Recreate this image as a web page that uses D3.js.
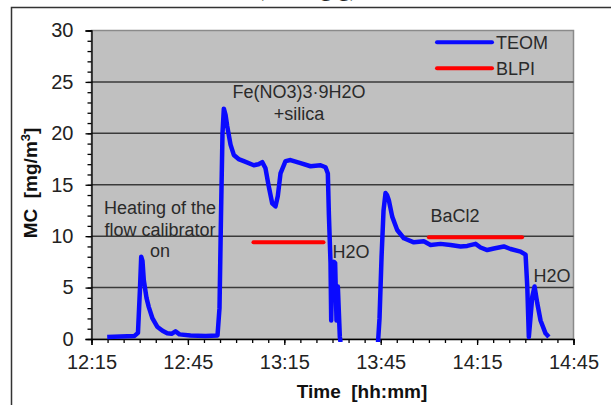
<!DOCTYPE html>
<html>
<head>
<meta charset="utf-8">
<script src="https://cdn.jsdelivr.net/npm/d3@7"></script>
<style>
	body { margin: 0; background: #fff; }
	text { font-family: "Liberation Sans", Arial, sans-serif; }
</style>
</head>
<body>
<script>
// TEOM trace (time of day, MC in mg/m3); null marks the gap where the trace is off scale
const teomTime = [
	"12:19:53", "12:24:02", "12:28:23", "12:29:28", "12:30:06", "12:30:28", "12:30:52", "12:31:17",
	"12:32:07", "12:32:50", "12:33:59", "12:35:27", "12:37:06", "12:38:34", "12:39:54", "12:41:08",
	"12:42:23", "12:45:49", "12:50:29", "12:54:13", "12:54:50", "12:55:18", "12:55:46", "12:56:11",
	"12:56:43", "12:57:14", "12:58:16", "12:59:17", "13:00:46", "13:02:24", "13:05:31", "13:06:58",
	"13:08:08", "13:09:09", "13:10:11", "13:11:14", "13:12:16", "13:12:59", "13:13:49", "13:15:23",
	"13:16:56", "13:20:03", "13:23:10", "13:26:16", "13:27:50", "13:28:33", "13:28:52", "13:29:23",
	"13:29:36", "13:29:55", "13:30:25", "13:30:49", "13:31:15", "13:31:40", "13:32:17", "13:32:30",
	"13:38:00",
	"13:44:10", "13:44:38", "13:45:16", "13:45:53", "13:46:30", "13:46:58", "13:47:32", "13:48:35",
	"13:50:08", "13:52:12", "13:55:19", "13:58:25", "14:00:31", "14:03:37", "14:06:44", "14:09:51",
	"14:11:56", "14:14:31", "14:16:04", "14:18:10", "14:20:13", "14:23:19", "14:25:25", "14:28:31",
	"14:30:05", "14:30:37", "14:31:06", "14:32:10", "14:32:53", "14:33:43", "14:34:45", "14:36:18",
	"14:37:20"
];
const teomValue = [
	0.2, 0.25, 0.3, 0.6, 5.0, 8.0, 7.6, 5.7,
	4.0, 3.1, 2.0, 1.2, 0.8, 0.55, 0.5, 0.75,
	0.45, 0.35, 0.3, 0.35, 3.0, 12.0, 20.0, 22.4,
	21.8, 20.7, 18.9, 17.9, 17.5, 17.3, 16.9, 17.0,
	17.2, 16.6, 14.8, 13.2, 12.9, 13.9, 16.1, 17.3,
	17.4, 17.1, 16.8, 16.9, 16.7, 16.1, 12.2, 7.4,
	1.8, 7.0, 7.5, 7.4, 1.8, 5.1, 0.2, -0.3,
	null,
	-0.3, 2.0, 8.0, 12.5, 14.2, 14.0, 13.5, 11.9,
	10.6, 9.8, 9.4, 9.5, 9.15, 9.25, 9.15, 9.0,
	9.05, 9.25, 8.9, 8.65, 8.8, 9.0, 8.75, 8.5,
	8.2, 5.1, 0.2, 4.1, 5.1, 3.5, 1.8, 0.55,
	0.2
];

// BLPI averages: start, end, value
const blpiStart = ["13:05:24", "14:00:00"];
const blpiEnd = ["13:27:12", "14:29:00"];
const blpiValue = [9.4, 9.9];

const xTickLabels = ["12:15", "12:45", "13:15", "13:45", "14:15", "14:45"];
const yTicks = [0, 5, 10, 15, 20, 25, 30];

const annotations = [
	{ lines: ["Heating of the", "flow calibrator", "on"], x: 160, y: 214 },
	{ lines: ["Fe(NO3)3·9H2O", "+silica"], x: 299, y: 98 },
	{ lines: ["H2O"], x: 351, y: 258 },
	{ lines: ["BaCl2"], x: 455, y: 222 },
	{ lines: ["H2O"], x: 552, y: 282 }
];

document.addEventListener('DOMContentLoaded', () => {
	const width = 611;
	const height = 405;
	const margin = { left: 91.5, right: 37.5, top: 30.5, bottom: 66 };

	const svg = d3.select("body").append("svg")
		.attr("width", width)
		.attr("height", height);

	const parseT = d3.timeParse("%H:%M:%S");
	const parseHM = d3.timeParse("%H:%M");

	const x = d3.scaleTime()
		.domain([parseHM(xTickLabels[0]), parseHM(xTickLabels[xTickLabels.length - 1])])
		.range([margin.left, width - margin.right]);

	const y = d3.scaleLinear()
		.domain([0, 30])
		.range([height - margin.bottom, margin.top]);

	// caption of the figure above, mostly cut off by the crop
	svg.append("text")
		.attr("x", 307)
		.attr("y", -4)
		.attr("text-anchor", "middle")
		.style("font-family", "'Liberation Serif', serif")
		.attr("font-size", "24px")
		.attr("fill", "#222")
		.text("(Setting g)");

	// outer frame
	svg.append("path")
		.attr("d", `M11.5,${height + 2}V7.5H${width + 2}`)
		.attr("fill", "none")
		.attr("stroke", "#333")
		.attr("stroke-width", 1.5);

	// plot area
	svg.append("rect")
		.attr("x", margin.left)
		.attr("y", margin.top)
		.attr("width", width - margin.left - margin.right)
		.attr("height", height - margin.top - margin.bottom)
		.attr("fill", "#c0c0c0")
		.attr("stroke", "#8a8a8a")
		.attr("stroke-width", 1.5);

	svg.append("clipPath")
		.attr("id", "plot-clip")
		.append("rect")
		.attr("x", margin.left)
		.attr("y", margin.top)
		.attr("width", width - margin.left - margin.right)
		.attr("height", height - margin.top - margin.bottom + 3);

	// gridlines
	svg.append("g")
		.selectAll("line")
		.data(yTicks.slice(1, -1))
		.enter().append("line")
		.attr("x1", margin.left)
		.attr("x2", width - margin.right)
		.attr("y1", d => y(d))
		.attr("y2", d => y(d))
		.attr("stroke", "#3a3a3a")
		.attr("stroke-width", 1.5);

	// axes: minor ticks first, then the labelled majors
	const xMinor = d3.timeMinute.every(5).range(x.domain()[0], new Date(+x.domain()[1] + 1));
	svg.append("g")
		.attr("transform", `translate(0,${y(0)})`)
		.call(d3.axisBottom(x).tickValues(xMinor).tickSize(4).tickFormat(""))
		.call(g => g.select(".domain").remove());

	const xAxis = svg.append("g")
		.attr("transform", `translate(0,${y(0)})`)
		.call(d3.axisBottom(x)
			.tickValues(xTickLabels.map(parseHM))
			.tickSize(6)
			.tickPadding(10)
			.tickFormat(d3.timeFormat("%H:%M")));

	svg.append("g")
		.attr("transform", `translate(${margin.left},0)`)
		.call(d3.axisLeft(y).tickValues(d3.range(0, 31, 1)).tickSize(4).tickFormat(""))
		.call(g => g.select(".domain").remove());

	const yAxis = svg.append("g")
		.attr("transform", `translate(${margin.left},0)`)
		.call(d3.axisLeft(y)
			.tickValues(yTicks)
			.tickSize(6)
			.tickPadding(12));

	svg.selectAll(".tick line").attr("stroke", "#000").attr("stroke-width", 1.3);
	svg.selectAll(".domain").attr("stroke", "#000").attr("stroke-width", 1.3);
	[xAxis, yAxis].forEach(a => a.selectAll("text")
		.attr("font-size", "20px")
		.attr("fill", "#222")
		.style("font-family", "'Liberation Sans', Arial, sans-serif"));

	// axis titles
	svg.append("text")
		.attr("x", 362)
		.attr("y", 398)
		.attr("text-anchor", "middle")
		.attr("font-size", "19px")
		.attr("font-weight", "bold")
		.attr("fill", "#111")
		.text("Time\u00a0\u00a0[hh:mm]");

	const yTitle = svg.append("text")
		.attr("transform", "translate(37,183) rotate(-90)")
		.attr("text-anchor", "middle")
		.attr("font-size", "19px")
		.attr("font-weight", "bold")
		.attr("fill", "#111");
	yTitle.append("tspan").text("MC\u00a0\u00a0[mg/m");
	yTitle.append("tspan").attr("dy", -7).attr("font-size", "13px").text("3");
	yTitle.append("tspan").attr("dy", 7).text("]");

	// series
	const teom = teomTime.map((t, i) => ({ t: parseT(t), v: teomValue[i] }));
	const line = d3.line()
		.defined(d => d.v !== null)
		.x(d => x(d.t))
		.y(d => y(d.v))
		.curve(d3.curveLinear);

	const plot = svg.append("g").attr("clip-path", "url(#plot-clip)");

	plot.selectAll("line.blpi")
		.data(blpiValue)
		.enter().append("line")
		.attr("class", "blpi")
		.attr("x1", (d, i) => x(parseT(blpiStart[i])))
		.attr("x2", (d, i) => x(parseT(blpiEnd[i])))
		.attr("y1", d => y(d))
		.attr("y2", d => y(d))
		.attr("stroke", "#ff0000")
		.attr("stroke-width", 4)
		.attr("stroke-linecap", "round");

	plot.append("path")
		.datum(teom)
		.attr("d", line)
		.attr("fill", "none")
		.attr("stroke", "#0a0aff")
		.attr("stroke-width", 4.5)
		.attr("stroke-linejoin", "round");

	// annotations
	const ann = svg.append("g").selectAll("text")
		.data(annotations)
		.enter().append("text")
		.attr("text-anchor", "middle")
		.attr("font-size", "18px")
		.attr("fill", "#2a2a2a");
	ann.selectAll("tspan")
		.data(d => d.lines.map((l, i) => ({ l, i, x: d.x, y: d.y })))
		.enter().append("tspan")
		.attr("x", d => d.x)
		.attr("y", d => d.y + d.i * 21.5)
		.text(d => d.l);

	// legend
	const legendNames = ["TEOM", "BLPI"];
	const legendColors = ["#0a0aff", "#ff0000"];
	const legend = svg.append("g").selectAll("g")
		.data(legendNames)
		.enter().append("g")
		.attr("transform", (d, i) => `translate(437,${42.3 + i * 26})`);
	legend.append("line")
		.attr("x1", 0).attr("x2", 55)
		.attr("stroke", (d, i) => legendColors[i])
		.attr("stroke-width", 4)
		.attr("stroke-linecap", "round");
	legend.append("text")
		.attr("x", 59)
		.attr("y", 6.5)
		.attr("font-size", "18px")
		.attr("fill", "#2a2a2a")
		.text(d => d);
});
</script>
</body>
</html>
